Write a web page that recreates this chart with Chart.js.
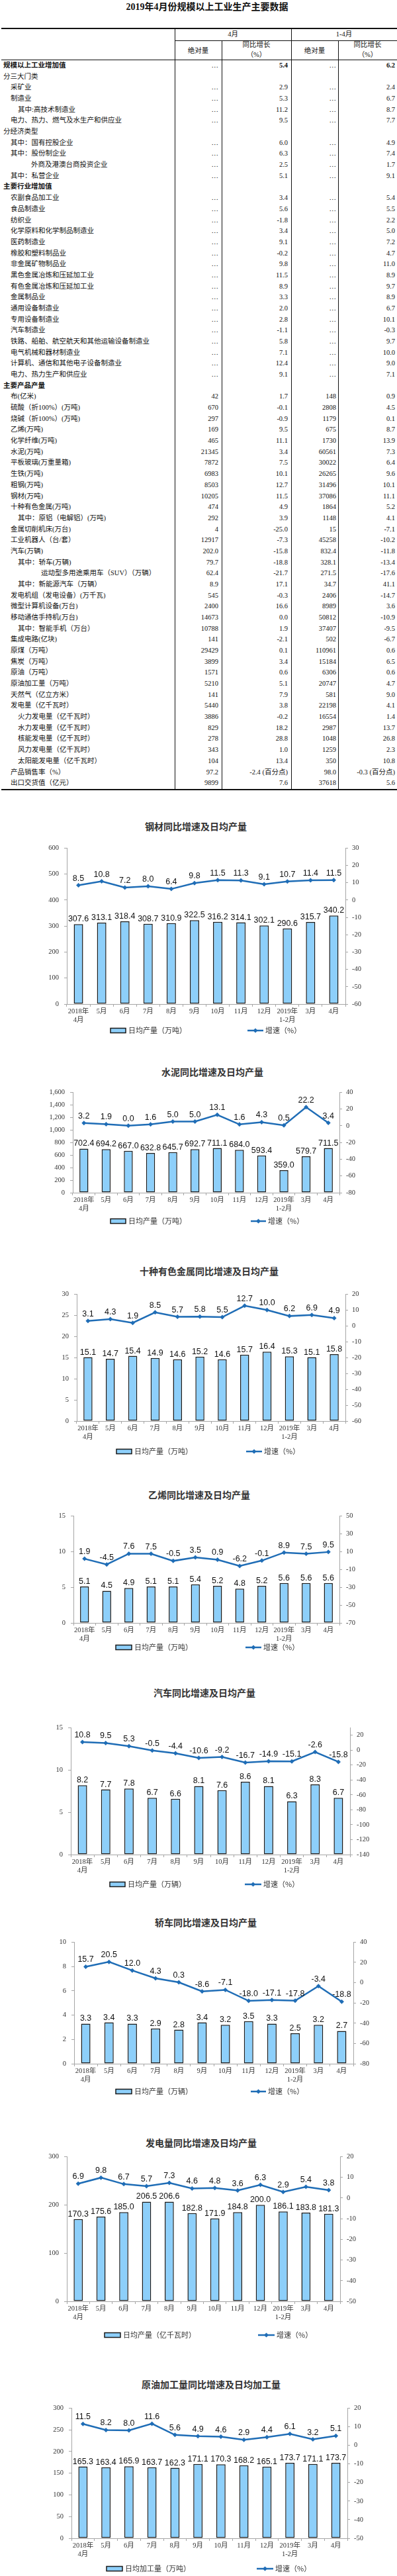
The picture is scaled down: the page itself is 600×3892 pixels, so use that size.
<!DOCTYPE html>
<html lang="zh-CN">
<head>
<meta charset="utf-8">
<title>2019年4月份规模以上工业生产主要数据</title>
<script src="https://cdn.jsdelivr.net/npm/chart.js@4.4.1/dist/chart.umd.min.js"></script>
<style>
  html, body { margin: 0; padding: 0; background: #fff; }
  #page {
    position: relative; width: 600px; height: 3892px; overflow: hidden;
    font-family: "Liberation Serif", "Noto Sans CJK SC", serif; color: #111;
  }
  .t { position: absolute; white-space: nowrap; font-size: 10.5px; line-height: 16px; height: 16px; }
  .b { font-weight: bold; }
  .rule { position: absolute; background: #111; }
  .ctitle {
    position: absolute; width: 300px; text-align: center; line-height: 20px;
    font: bold 14px "Noto Sans CJK SC", sans-serif; color: #333;
  }
  canvas { position: absolute; left: 0; }
</style>
</head>
<body>
<div id="page"></div>
<script>
/* ---------- table data ---------- */
const rowNames = [
  "规模以上工业增加值", "分三大门类", "采矿业", "制造业", "其中:高技术制造业",
  "电力、热力、燃气及水生产和供应业", "分经济类型", "其中：国有控股企业", "其中：股份制企业",
  "外商及港澳台商投资企业", "其中：私营企业", "主要行业增加值", "农副食品加工业", "食品制造业",
  "纺织业", "化学原料和化学制品制造业", "医药制造业", "橡胶和塑料制品业", "非金属矿物制品业",
  "黑色金属冶炼和压延加工业", "有色金属冶炼和压延加工业", "金属制品业", "通用设备制造业",
  "专用设备制造业", "汽车制造业", "铁路、船舶、航空航天和其他运输设备制造业", "电气机械和器材制造业",
  "计算机、通信和其他电子设备制造业", "电力、热力生产和供应业", "主要产品产量",
  "布(亿米)", "硫酸（折100%）(万吨)", "烧碱（折100%）(万吨)", "乙烯(万吨)", "化学纤维(万吨)",
  "水泥(万吨)", "平板玻璃(万重量箱)", "生铁(万吨)", "粗钢(万吨)", "钢材(万吨)", "十种有色金属(万吨)",
  "其中：原铝（电解铝）(万吨)", "金属切削机床(万台)", "工业机器人（台/套）", "汽车(万辆)",
  "其中：轿车(万辆)", "运动型多用途乘用车（SUV）（万辆）", "其中：新能源汽车（万辆）",
  "发电机组（发电设备）(万千瓦)", "微型计算机设备(万台)", "移动通信手持机(万台)", "其中：智能手机（万台）",
  "集成电路(亿块)", "原煤（万吨）", "焦炭（万吨）", "原油（万吨）", "原油加工量（万吨）",
  "天然气（亿立方米）", "发电量（亿千瓦时）", "火力发电量（亿千瓦时）", "水力发电量（亿千瓦时）",
  "核能发电量（亿千瓦时）", "风力发电量（亿千瓦时）", "太阳能发电量（亿千瓦时）",
  "产品销售率（%）", "出口交货值（亿元）"
];
// depth of each row in the table hierarchy
const rowLevel = [
  0, 0, 1, 1, 2, 1, 0, 1, 1, 3, 1, 0,
  1, 1, 1, 1, 1, 1, 1, 1, 1, 1, 1, 1, 1, 1, 1, 1, 1, 0,
  1, 1, 1, 1, 1, 1, 1, 1, 1, 1, 1, 2, 1, 1, 1, 2, 4, 2, 1, 1, 1, 2,
  1, 1, 1, 1, 1, 1, 1, 2, 2, 2, 2, 2, 1, 1
];
const headingRows = [0, 11, 29];

const D = "…";
const aprAbs = [
  D, "", D, D, D, D, "", D, D, D, D, "",
  D, D, D, D, D, D, D, D, D, D, D, D, D, D, D, D, D, "",
  "42", "670", "297", "169", "465", "21345", "7872", "6983", "8503", "10205",
  "474", "292", "4", "12917", "202.0", "79.7", "62.4", "8.9", "545", "2400",
  "14673", "10788", "141", "29429", "3899", "1571", "5210", "141", "5440", "3886",
  "829", "278", "343", "104", "97.2", "9899"
];
const aprYoy = [
  "5.4", "", "2.9", "5.3", "11.2", "9.5", "", "6.0", "6.3", "2.5", "5.1", "",
  "3.4", "5.6", "-1.8", "3.4", "9.1", "-0.2", "9.8", "11.5", "8.9", "3.3", "2.0", "2.8",
  "-1.1", "5.8", "7.1", "12.4", "9.1", "",
  "1.7", "-0.1", "-0.9", "9.5", "11.1", "3.4", "7.5", "10.1", "12.7", "11.5",
  "4.9", "3.9", "-25.0", "-7.3", "-15.8", "-18.8", "-21.7", "17.1", "-0.3", "16.6",
  "0.0", "1.9", "-2.1", "0.1", "3.4", "0.6", "5.1", "7.9", "3.8", "-0.2",
  "18.2", "28.8", "1.0", "13.4", "-2.4 (百分点)", "7.6"
];
const ytdAbs = [
  D, "", D, D, D, D, "", D, D, D, D, "",
  D, D, D, D, D, D, D, D, D, D, D, D, D, D, D, D, D, "",
  "148", "2808", "1179", "675", "1730", "60561", "30022", "26265", "31496", "37086",
  "1864", "1148", "15", "45258", "832.4", "328.1", "271.5", "34.7", "2406", "8989",
  "50812", "37407", "502", "110961", "15184", "6306", "20747", "581", "22198", "16554",
  "2987", "1048", "1259", "350", "98.0", "37618"
];
const ytdYoy = [
  "6.2", "", "2.4", "6.7", "8.7", "7.7", "", "4.9", "7.4", "1.7", "9.1", "",
  "5.4", "5.5", "2.2", "5.0", "7.2", "4.7", "11.0", "8.9", "9.7", "8.9", "6.7", "10.1",
  "-0.3", "9.7", "10.0", "9.0", "7.1", "",
  "0.9", "4.5", "0.1", "8.7", "13.9", "7.3", "6.4", "9.6", "10.1", "11.1",
  "5.2", "4.1", "-7.1", "-10.2", "-11.8", "-13.4", "-17.6", "41.1", "-14.7", "3.6",
  "-10.9", "-9.5", "-6.7", "0.6", "6.5", "0.6", "4.7", "9.0", "4.1", "1.4",
  "13.7", "26.8", "2.3", "10.8", "-0.3 (百分点)", "5.6"
];

/* ---------- chart data ---------- */
const months = [["2018年", "4月"], "5月", "6月", "7月", "8月", "9月", "10月", "11月", "12月", ["2019年", "1-2月"], "3月", "4月"];

const steelOutput = [307.6, 313.1, 318.4, 308.7, 310.9, 322.5, 316.2, 314.1, 302.1, 290.6, 315.7, 340.2];
const steelGrowth = [8.5, 10.8, 7.2, 8.0, 6.4, 9.8, 11.5, 11.3, 9.1, 10.7, 11.4, 11.5];
const steelLeftTicks = [0, 100, 200, 300, 400, 500, 600];
const steelRightTicks = [-60, -50, -40, -30, -20, -10, 0, 10, 20, 30];

const cementOutput = [702.4, 694.2, 667.0, 632.8, 645.7, 692.7, 711.1, 684.0, 593.4, 359.0, 579.7, 711.5];
const cementGrowth = [3.2, 1.9, 0.0, 1.6, 5.0, 5.0, 13.1, 1.6, 4.3, 0.5, 22.2, 3.4];
const cementLeftTicks = [0, 200, 400, 600, 800, 1000, 1200, 1400, 1600];
const cementRightTicks = [-80, -70, -60, -50, -40, -30, -20, -10, 0, 10, 20, 30, 40];

const metalOutput = [15.1, 14.7, 15.4, 14.9, 14.6, 15.2, 14.6, 15.7, 16.4, 15.3, 15.1, 15.8];
const metalGrowth = [3.1, 4.3, 1.9, 8.5, 5.7, 5.8, 5.5, 12.7, 10.0, 6.2, 6.9, 4.9];
const metalLeftTicks = [0, 5, 10, 15, 20, 25, 30];
const metalRightTicks = [-60, -50, -40, -30, -20, -10, 0, 10, 20];

const ethyleneOutput = [5.1, 4.5, 4.9, 5.1, 5.1, 5.4, 5.2, 4.8, 5.2, 5.6, 5.6, 5.6];
const ethyleneGrowth = [1.9, -4.5, 7.6, 7.5, -0.5, 3.5, 0.9, -6.2, -0.1, 8.9, 7.5, 9.5];
const ethyleneLeftTicks = [0, 5, 10, 15];
const ethyleneRightTicks = [-70, -50, -30, -10, 10, 30, 50];

const carOutput = [8.2, 7.7, 7.8, 6.7, 6.6, 8.1, 7.6, 8.6, 8.1, 6.3, 8.3, 6.7];
const carGrowth = [10.8, 9.5, 5.3, -0.5, -4.4, -10.6, -9.2, -16.7, -14.9, -15.1, -2.6, -15.8];
const carLeftTicks = [0, 5, 10, 15];
const carRightTicks = [-140, -120, -100, -80, -60, -40, -20, 0, 20];
const carRightRange = [-140, 30];

const sedanOutput = [3.3, 3.4, 3.3, 2.9, 2.8, 3.4, 3.2, 3.5, 3.3, 2.5, 3.2, 2.7];
const sedanGrowth = [15.7, 20.5, 12.0, 4.3, 0.3, -8.6, -7.1, -18.0, -17.1, -17.8, -3.4, -18.8];
const sedanLeftTicks = [0, 2, 4, 6, 8, 10];
const sedanRightTicks = [-80, -60, -40, -20, 0, 20, 40];

const powerOutput = [170.3, 175.6, 185.0, 206.5, 206.6, 182.8, 171.9, 184.8, 200.0, 186.1, 183.8, 181.3];
const powerGrowth = [6.9, 9.8, 6.7, 5.7, 7.3, 4.6, 4.8, 3.6, 6.3, 2.9, 5.4, 3.8];
const powerLeftTicks = [0, 100, 200, 300];
const powerRightTicks = [-50, -40, -30, -20, -10, 0, 10, 20];

const crudeOutput = [165.3, 163.4, 165.9, 163.7, 162.3, 171.1, 170.3, 168.2, 165.1, 173.7, 171.1, 173.7];
const crudeGrowth = [11.5, 8.2, 8.0, 11.6, 5.6, 4.9, 4.6, 2.9, 4.4, 6.1, 3.2, 5.1];
const crudeLeftTicks = [0, 50, 100, 150, 200, 250, 300];
const crudeRightTicks = [-50, -40, -30, -20, -10, 0, 10, 20];

/* ---------- table drawing ---------- */
const page = document.getElementById("page");

function put(text, x, y, align, cls) {
  const d = document.createElement("div");
  d.className = "t" + (cls ? " " + cls : "");
  d.textContent = text;
  d.style.top = (y - 8) + "px";
  if (align === "right") {
    d.style.right = (600 - x) + "px";
  } else if (align === "center") {
    d.style.left = (x - 60) + "px";
    d.style.width = "120px";
    d.style.textAlign = "center";
  } else {
    d.style.left = x + "px";
  }
  page.appendChild(d);
  return d;
}

function rule(x, y, w, h) {
  const d = document.createElement("div");
  d.className = "rule";
  d.style.left = x + "px";
  d.style.top = y + "px";
  d.style.width = w + "px";
  d.style.height = h + "px";
  page.appendChild(d);
}

const head = put("2019年4月份规模以上工业生产主要数据", 313, 10, "center", "b");
head.style.fontSize = "14px";
head.style.width = "320px";
head.style.left = (313 - 160) + "px";
head.style.lineHeight = "18px";
head.style.height = "18px";

rule(2, 42, 598, 2);
rule(264, 61, 336, 1);
rule(2, 90, 598, 1);
rule(2, 1192, 598, 2);
rule(264, 43, 1, 1150);
rule(440, 43, 1, 1150);
rule(335, 61, 1, 1132);
rule(511, 61, 1, 1132);

put("4月", 352, 52, "center");
put("1-4月", 520, 52, "center");
put("绝对量", 299.5, 77, "center");
put("同比增长", 387.5, 68, "center");
put("（%）", 387.5, 83, "center");
put("绝对量", 475.5, 77, "center");
put("同比增长", 555.5, 68, "center");
put("（%）", 555.5, 83, "center");

const indent = [5, 16, 27, 47, 62];
rowNames.forEach((name, i) => {
  const y = 99 + i * 16.68;
  const bold = headingRows.includes(i) ? "b" : "";
  put(name, indent[rowLevel[i]], y, "left", bold);
  if (aprAbs[i]) put(aprAbs[i], 330, y, "right");
  if (aprYoy[i]) put(aprYoy[i], 435, y, "right", i === 0 ? "b" : "");
  if (ytdAbs[i]) put(ytdAbs[i], 508, y, "right");
  if (ytdYoy[i]) put(ytdYoy[i], 597, y, "right", i === 0 ? "b" : "");
});

/* ---------- charts ---------- */
const lineBlue = "#1f6db6";
const barFill = "#8dcffa";
const barEdge = "#1a1a1a";
const axisGray = "#a6a6a6";
const tickFont = { family: '"Liberation Serif", "Noto Sans CJK SC", serif', size: 10.5 };

// numbers over bars and points
const valueLabels = {
  id: "valueLabels",
  afterDatasetsDraw(chart) {
    const ctx = chart.ctx;
    ctx.save();
    ctx.font = '12.5px "Liberation Sans", Arial, sans-serif';
    ctx.fillStyle = "#111";
    ctx.textAlign = "center";
    ctx.textBaseline = "alphabetic";
    chart.data.datasets.forEach((ds, i) => {
      const gap = ds.type === "line" ? 7 : 4;
      chart.getDatasetMeta(i).data.forEach((el, j) => {
        ctx.fillText(ds.data[j].toFixed(1), el.x, el.y - gap);
      });
    });
    ctx.restore();
  }
};

// legend row under the axis: bar key and line key
const keyLegend = {
  id: "keyLegend",
  afterDraw(chart, args, opts) {
    const ctx = chart.ctx;
    const y = opts.y;
    const bar = chart.data.datasets[0];
    const line = chart.data.datasets[1];
    ctx.save();
    ctx.fillStyle = bar.backgroundColor;
    ctx.fillRect(opts.bar[0], y - 3.5, opts.bar[1] - opts.bar[0], 7);
    ctx.strokeStyle = bar.borderColor;
    ctx.lineWidth = 1.5;
    ctx.strokeRect(opts.bar[0], y - 3.5, opts.bar[1] - opts.bar[0], 7);

    ctx.strokeStyle = line.borderColor;
    ctx.lineWidth = 2.5;
    ctx.beginPath();
    ctx.moveTo(opts.line[0], y);
    ctx.lineTo(opts.line[1], y);
    ctx.stroke();
    const mx = (opts.line[0] + opts.line[1]) / 2;
    ctx.fillStyle = line.borderColor;
    ctx.beginPath();
    ctx.moveTo(mx, y - 3.5);
    ctx.lineTo(mx + 3.5, y);
    ctx.lineTo(mx, y + 3.5);
    ctx.lineTo(mx - 3.5, y);
    ctx.closePath();
    ctx.fill();

    ctx.font = '11px "Noto Sans CJK SC", sans-serif';
    ctx.fillStyle = "#333";
    ctx.textAlign = "left";
    ctx.textBaseline = "middle";
    ctx.fillText(bar.label, opts.bar[1] + 4, y);
    ctx.fillText(line.label, opts.line[1] + 3, y);
    ctx.restore();
  }
};

function drawChart(spec, box) {
  const pad = 12;
  const xAxisH = 30;
  const canvasTop = box.top - pad;
  const canvasH = box.legendY + 10 - canvasTop;

  const title = document.createElement("div");
  title.className = "ctitle";
  title.textContent = spec.title;
  title.style.left = (box.titleX - 150) + "px";
  title.style.top = (box.titleY - 10) + "px";
  page.appendChild(title);

  const cv = document.createElement("canvas");
  cv.width = 600;
  cv.height = canvasH;
  cv.style.top = canvasTop + "px";
  page.appendChild(cv);

  const leftRange = [spec.leftTicks[0], spec.leftTicks[spec.leftTicks.length - 1]];
  const rightRange = spec.rightRange || [spec.rightTicks[0], spec.rightTicks[spec.rightTicks.length - 1]];

  new Chart(cv, {
    type: "bar",
    data: {
      labels: months,
      datasets: [
        {
          type: "bar",
          label: spec.barName,
          data: spec.bars,
          yAxisID: "y",
          backgroundColor: barFill,
          borderColor: barEdge,
          borderWidth: 1.5,
          borderSkipped: false,
          barPercentage: 0.4,
          categoryPercentage: 1,
          order: 2
        },
        {
          type: "line",
          label: "增速（%）",
          data: spec.growth,
          yAxisID: "y1",
          borderColor: lineBlue,
          backgroundColor: lineBlue,
          borderWidth: 2.5,
          pointStyle: "rectRot",
          pointRadius: 3.5,
          pointBorderWidth: 0,
          tension: 0,
          order: 1
        }
      ]
    },
    options: {
      responsive: false,
      animation: false,
      events: [],
      layout: {
        padding: { top: pad, left: 0, right: 0, bottom: canvasH - pad - (box.bottom - box.top) - xAxisH }
      },
      plugins: {
        legend: { display: false },
        tooltip: { enabled: false },
        keyLegend: { y: box.legendY - canvasTop, bar: box.barKey, line: box.lineKey }
      },
      scales: {
        x: {
          offset: true,
          grid: { offset: true, drawOnChartArea: false, tickLength: 4, color: axisGray },
          border: { color: axisGray },
          ticks: { font: tickFont, color: "#333", padding: 1, maxRotation: 0, autoSkip: false },
          afterFit: (s) => { s.height = xAxisH; }
        },
        y: {
          position: "left",
          min: leftRange[0],
          max: leftRange[1],
          grid: { drawOnChartArea: false, tickLength: 4, color: axisGray },
          border: { color: axisGray },
          ticks: { font: tickFont, color: "#333", padding: 8 },
          afterBuildTicks: (s) => { s.ticks = spec.leftTicks.map(v => ({ value: v })); },
          afterFit: (s) => { s.width = box.left; }
        },
        y1: {
          position: "right",
          min: rightRange[0],
          max: rightRange[1],
          grid: { drawOnChartArea: false, tickLength: 4, color: axisGray },
          border: { color: axisGray },
          ticks: { font: tickFont, color: "#333", padding: 6 },
          afterBuildTicks: (s) => { s.ticks = spec.rightTicks.map(v => ({ value: v })); },
          afterFit: (s) => { s.width = 600 - box.right; }
        }
      }
    },
    plugins: [valueLabels, keyLegend]
  });
}

const chartSpecs = [
  { title: "钢材同比增速及日均产量", barName: "日均产量（万吨）", bars: steelOutput, growth: steelGrowth,
    leftTicks: steelLeftTicks, rightTicks: steelRightTicks },
  { title: "水泥同比增速及日均产量", barName: "日均产量（万吨）", bars: cementOutput, growth: cementGrowth,
    leftTicks: cementLeftTicks, rightTicks: cementRightTicks },
  { title: "十种有色金属同比增速及日均产量", barName: "日均产量（万吨）", bars: metalOutput, growth: metalGrowth,
    leftTicks: metalLeftTicks, rightTicks: metalRightTicks },
  { title: "乙烯同比增速及日均产量", barName: "日均产量（万吨）", bars: ethyleneOutput, growth: ethyleneGrowth,
    leftTicks: ethyleneLeftTicks, rightTicks: ethyleneRightTicks },
  { title: "汽车同比增速及日均产量", barName: "日均产量（万辆）", bars: carOutput, growth: carGrowth,
    leftTicks: carLeftTicks, rightTicks: carRightTicks, rightRange: carRightRange },
  { title: "轿车同比增速及日均产量", barName: "日均产量（万辆）", bars: sedanOutput, growth: sedanGrowth,
    leftTicks: sedanLeftTicks, rightTicks: sedanRightTicks },
  { title: "发电量同比增速及日均产量", barName: "日均产量（亿千瓦时）", bars: powerOutput, growth: powerGrowth,
    leftTicks: powerLeftTicks, rightTicks: powerRightTicks },
  { title: "原油加工量同比增速及日均加工量", barName: "日均加工量（万吨）", bars: crudeOutput, growth: crudeGrowth,
    leftTicks: crudeLeftTicks, rightTicks: crudeRightTicks }
];

// where each chart sits on the page
const chartBoxes = [
  { titleX: 296, titleY: 1248, top: 1279, bottom: 1517, left: 101, right: 522, legendY: 1557, barKey: [167, 190], lineKey: [374, 398] },
  { titleX: 321, titleY: 1619, top: 1648, bottom: 1802, left: 110, right: 513, legendY: 1845, barKey: [167, 190], lineKey: [379, 402] },
  { titleX: 316, titleY: 1920, top: 1953, bottom: 2147, left: 116, right: 522, legendY: 2193, barKey: [176, 199], lineKey: [372, 396] },
  { titleX: 301, titleY: 2258, top: 2288, bottom: 2452, left: 111, right: 513, legendY: 2489, barKey: [175, 199], lineKey: [371, 395] },
  { titleX: 309, titleY: 2557, top: 2608, bottom: 2802, left: 107, right: 529, legendY: 2847, barKey: [166, 189], lineKey: [370, 395] },
  { titleX: 311, titleY: 2904, top: 2932, bottom: 3118, left: 112, right: 534, legendY: 3160, barKey: [175, 199], lineKey: [379, 402] },
  { titleX: 304, titleY: 3237, top: 3256, bottom: 3477, left: 101, right: 514, legendY: 3528, barKey: [158, 182], lineKey: [390, 415] },
  { titleX: 319, titleY: 3602, top: 3636, bottom: 3835, left: 108, right: 525, legendY: 3881, barKey: [161, 185], lineKey: [388, 413] }
];

chartSpecs.forEach((spec, i) => drawChart(spec, chartBoxes[i]));
</script>
</body>
</html>
